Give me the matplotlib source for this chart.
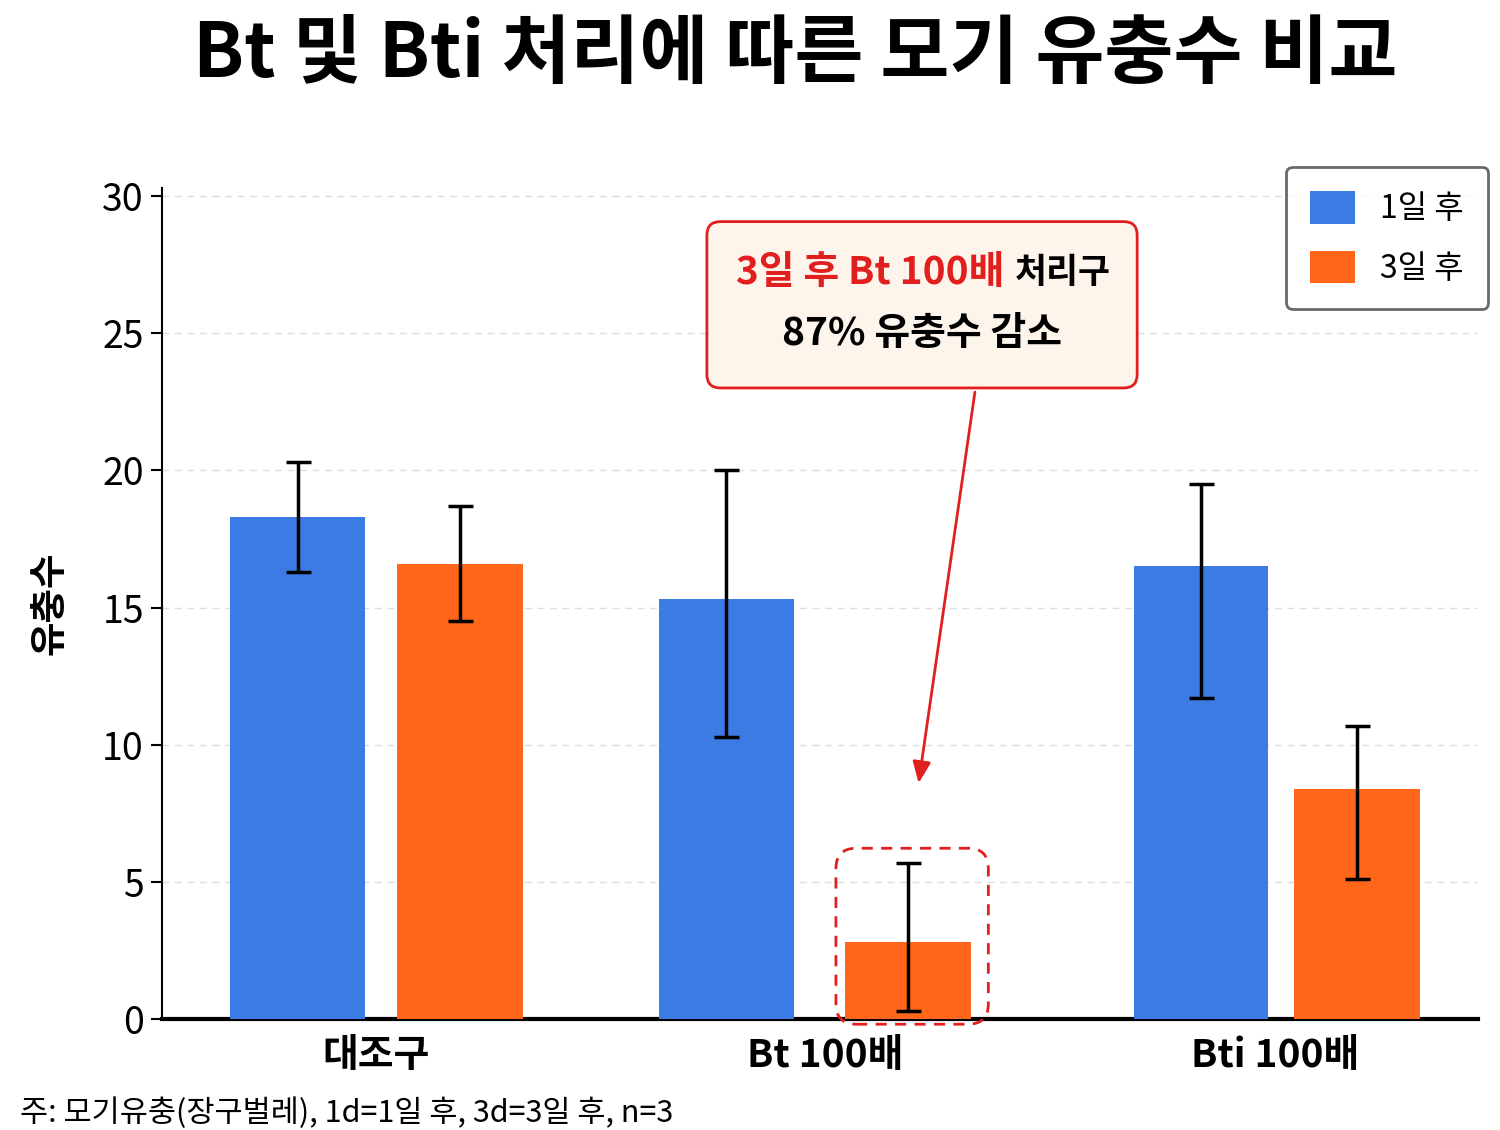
import numpy as np
import matplotlib
matplotlib.use("Agg")
import matplotlib.pyplot as plt
from matplotlib.patches import FancyBboxPatch, Patch

plt.rcParams['font.family'] = ['Noto Sans CJK KR', 'DejaVu Sans']

groups = ['대조구', 'Bt 100배', 'Bti 100배']
series = ['1일 후', '3일 후']
day1 = [18.3, 15.3, 16.5]
day1_low = [16.3, 10.3, 11.7]
day1_high = [20.3, 20.0, 19.5]
day3 = [16.6, 2.8, 8.4]
day3_low = [14.5, 0.3, 5.1]
day3_high = [18.7, 5.7, 10.7]

blue = '#3B7BE3'
orange = '#FF661A'
red = '#E21F1F'

fig = plt.figure(figsize=(15, 11.3), dpi=100)
ax = fig.add_axes([0.108, 0.098, 0.877, 0.736])

x = np.arange(len(groups))
# the bars are not evenly placed in the original
off1 = np.array([-0.174, -0.221, -0.165])
off3 = np.array([0.187, 0.184, 0.182])

e1 = [np.subtract(day1, day1_low), np.subtract(day1_high, day1)]
e3 = [np.subtract(day3, day3_low), np.subtract(day3_high, day3)]
ekw = dict(ecolor='black', elinewidth=2.5, capsize=9, capthick=2.5)
ax.bar(x + off1, day1, 0.30, color=blue, yerr=e1, error_kw=ekw, zorder=3)
ax.bar(x + off3, day3, 0.28, color=orange, yerr=e3, error_kw=ekw, zorder=3)

ax.set_xlim(-0.476, 2.45)
ax.set_ylim(0, 30.3)
ax.set_yticks(range(0, 31, 5))
ax.yaxis.grid(True, linestyle=(0, (5, 4)), color='#dddddd', linewidth=1, zorder=0)
ax.set_axisbelow(True)
for s in ['top', 'right']:
    ax.spines[s].set_visible(False)
ax.spines['bottom'].set_linewidth(3)
ax.spines['left'].set_linewidth(1.5)
ax.set_xticks(x)
ax.set_xticklabels(groups, fontsize=28, fontweight='bold')
ax.tick_params(axis='x', length=0, pad=12)
ax.tick_params(axis='y', labelsize=27, length=8, width=1.5, pad=5)
ax.set_ylabel('유충수', fontsize=27, fontweight='bold', labelpad=24)

fig.text(0.53, 0.951, 'Bt 및 Bti 처리에 따른 모기 유충수 비교', fontsize=54,
         fontweight='bold', ha='center', va='center')

# highlight box around Bt 3d bar
asp = (449.5 / 27.43)
hl = FancyBboxPatch((1.023, -0.18), 0.339, 6.41,
                    boxstyle='round,pad=0,rounding_size=0.045',
                    mutation_aspect=asp, fill=False, edgecolor=red,
                    linestyle=(0, (4, 3)), linewidth=2, zorder=5, clip_on=False)
ax.add_patch(hl)

# callout box
cb = FancyBboxPatch((0.736, 23.0), 0.957, 6.06,
                    boxstyle='round,pad=0,rounding_size=0.03',
                    mutation_aspect=asp, facecolor='#FDF4EC', edgecolor=red,
                    linewidth=2, zorder=6)
ax.add_patch(cb)
ax.text(1.397, 27.2, '3일 후 Bt 100배', color=red, fontsize=28,
        fontweight='bold', ha='right', va='center', zorder=7)
ax.text(1.42, 27.2, '처리구', color='black', fontsize=25,
        fontweight='bold', ha='left', va='center', zorder=7)
ax.text(1.215, 25.0, '87% 유충수 감소', color='black', fontsize=28,
        fontweight='bold', ha='center', va='center', zorder=7)
ax.annotate('', xy=(1.206, 8.5), xytext=(1.333, 22.95),
            arrowprops=dict(arrowstyle='-|>,head_length=1.3,head_width=0.55',
                            color=red, lw=2), zorder=6)

handles = [Patch(facecolor=blue), Patch(facecolor=orange)]
leg = fig.legend(handles, series, loc='upper right',
                 bbox_to_anchor=(1488 / 1500, 1 - 167 / 1130),
                 fontsize=23, frameon=True, fancybox=True, borderpad=0.75,
                 handlelength=1.4, handleheight=1.2, labelspacing=0.8,
                 handletextpad=0.8, borderaxespad=0,
                 prop={'size': 23, 'weight': 'medium'})
leg.get_frame().set_edgecolor('#444444')
leg.get_frame().set_linewidth(2)

fig.text(20 / 1500, 1 - 1113 / 1130, '주: 모기유충(장구벌레), 1d=1일 후, 3d=3일 후, n=3',
         fontsize=22, ha='left', va='center')

fig.savefig('out.png', dpi=100, facecolor='white')
